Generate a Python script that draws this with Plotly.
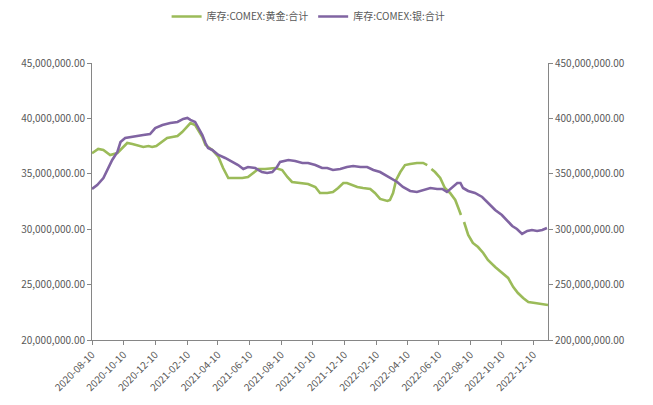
import plotly.graph_objects as go

# COMEX gold inventory (left axis)
gold_dates = [
    "2020-08-10", "2020-08-16", "2020-08-22", "2020-09-01", "2020-09-14", "2020-09-28",
    "2020-10-07", "2020-10-17", "2020-10-27", "2020-11-05", "2020-11-17", "2020-11-27",
    "2020-12-04", "2020-12-12", "2020-12-20", "2021-01-02", "2021-01-12", "2021-01-22",
    "2021-01-31", "2021-02-10", "2021-02-16", "2021-02-25", "2021-03-03", "2021-03-11",
    "2021-03-17", "2021-03-22", "2021-03-30", "2021-04-11", "2021-04-20", "2021-04-30",
    "2021-05-13", "2021-05-27", "2021-06-07", "2021-06-17", "2021-06-27", "2021-07-10",
    "2021-07-30", "2021-08-12", "2021-08-22", "2021-08-31", "2021-09-12", "2021-10-01",
    "2021-10-15", "2021-10-24", "2021-11-07", "2021-11-18", "2021-11-28", "2021-12-08",
    "2021-12-15", "2021-12-25", "2022-01-04", "2022-01-15", "2022-01-29", "2022-02-07",
    "2022-02-17", "2022-03-03", "2022-03-08", "2022-03-14", "2022-03-20", "2022-03-28",
    "2022-04-06", "2022-04-16", "2022-04-29", "2022-05-11", "2022-05-19", "2022-05-23",
    "2022-05-27", "2022-06-03", "2022-06-13", "2022-06-22", "2022-07-02", "2022-07-12",
    "2022-07-18", "2022-07-23", "2022-07-26", "2022-07-29", "2022-08-06", "2022-08-15",
    "2022-08-25", "2022-09-04", "2022-09-13", "2022-09-27", "2022-10-10", "2022-10-22",
    "2022-11-01", "2022-11-10", "2022-11-20", "2022-11-30", "2022-12-13", "2022-12-27",
    "2023-01-07",
]
gold_values = [
    36.85, 37.06, 37.24, 37.15, 36.70, 36.88,
    37.33, 37.78, 37.69, 37.60, 37.42, 37.51,
    37.42, 37.51, 37.78, 38.23, 38.32, 38.41,
    38.77, 39.22, 39.58, 39.40, 38.95, 38.32,
    37.60, 37.42, 37.15, 36.52, 35.52, 34.62,
    34.62, 34.62, 34.71, 35.07, 35.43, 35.43,
    35.52, 35.34, 34.71, 34.26, 34.17, 34.08,
    33.81, 33.27, 33.27, 33.36, 33.72, 34.17,
    34.17, 33.99, 33.81, 33.72, 33.63, 33.27,
    32.73, 32.55, 32.64, 33.27, 34.44, 35.16,
    35.79, 35.88, 35.98, 35.98, 35.79, None,
    35.43, 35.16, 34.62, 33.72, 33.27, 32.64,
    31.91, 31.28, None, 30.65, 29.48, 28.76,
    28.39, 27.85, 27.22, 26.59, 26.05, 25.60,
    24.78, 24.24, 23.79, 23.43, 23.34, 23.25,
    23.16,
]

# COMEX silver inventory (right axis)
silver_dates = [
    "2020-08-10", "2020-08-20", "2020-09-01", "2020-09-10", "2020-09-18", "2020-09-28",
    "2020-10-04", "2020-10-13", "2020-10-23", "2020-11-05", "2020-11-17", "2020-11-30",
    "2020-12-10", "2020-12-24", "2021-01-08", "2021-01-22", "2021-02-02", "2021-02-10",
    "2021-02-16", "2021-02-25", "2021-03-03", "2021-03-11", "2021-03-17", "2021-03-22",
    "2021-03-30", "2021-04-11", "2021-04-24", "2021-05-08", "2021-05-19", "2021-05-29",
    "2021-06-07", "2021-06-21", "2021-07-04", "2021-07-14", "2021-07-24", "2021-08-02",
    "2021-08-08", "2021-08-24", "2021-09-06", "2021-09-20", "2021-10-01", "2021-10-15",
    "2021-10-28", "2021-11-07", "2021-11-18", "2021-12-02", "2021-12-15", "2021-12-27",
    "2022-01-10", "2022-01-23", "2022-02-04", "2022-02-17", "2022-03-03", "2022-03-12",
    "2022-03-22", "2022-04-02", "2022-04-16", "2022-04-29", "2022-05-11", "2022-05-25",
    "2022-06-07", "2022-06-17", "2022-06-26", "2022-07-06", "2022-07-16", "2022-07-22",
    "2022-07-27", "2022-08-06", "2022-08-19", "2022-09-02", "2022-09-13", "2022-09-27",
    "2022-10-10", "2022-10-20", "2022-10-30", "2022-11-08", "2022-11-18", "2022-11-28",
    "2022-12-07", "2022-12-17", "2022-12-27", "2023-01-05",
]
silver_values = [
    336.3, 339.9, 346.2, 355.2, 362.5, 369.7,
    378.7, 382.3, 383.2, 384.1, 385.0, 385.9,
    391.3, 394.0, 395.9, 396.8, 399.5, 400.4,
    398.6, 396.8, 391.3, 385.0, 377.8, 373.3,
    371.5, 367.0, 364.3, 360.7, 357.9, 354.3,
    356.1, 355.2, 351.6, 350.7, 351.6, 356.1,
    360.7, 362.5, 361.6, 359.8, 359.8, 357.9,
    355.2, 355.2, 353.4, 354.3, 356.1, 357.0,
    356.1, 356.1, 353.4, 351.6, 348.0, 345.3,
    342.6, 338.1, 334.5, 333.6, 335.4, 337.2,
    336.3, 336.3, 333.6, 338.1, 341.7, 341.7,
    337.2, 334.5, 332.7, 329.1, 323.7, 317.3,
    312.8, 308.3, 302.9, 300.2, 295.7, 298.4,
    299.3, 298.4, 299.3, 301.1,
]

tick_dates = [
    "2020-08-10", "2020-10-10", "2020-12-10", "2021-02-10", "2021-04-10",
    "2021-06-10", "2021-08-10", "2021-10-10", "2021-12-10", "2022-02-10",
    "2022-04-10", "2022-06-10", "2022-08-10", "2022-10-10", "2022-12-10",
]

left_ticks = [20e6, 25e6, 30e6, 35e6, 40e6, 45e6]
right_ticks = [200e6, 250e6, 300e6, 350e6, 400e6, 450e6]

GREEN = "#9BBB59"
PURPLE = "#8064A2"
TEXT = "#595959"
AXIS = "#868686"
FONT = "Noto Sans CJK SC"

fig = go.Figure()
fig.add_trace(go.Scatter(
    x=gold_dates, y=[v * 1e6 if v is not None else None for v in gold_values],
    name="库存:COMEX:黄金:合计", mode="lines",
    line=dict(color=GREEN, width=2.6), connectgaps=False,
))
fig.add_trace(go.Scatter(
    x=silver_dates, y=[v * 1e6 for v in silver_values],
    name="库存:COMEX:银:合计", mode="lines", yaxis="y2",
    line=dict(color=PURPLE, width=2.6),
))

axis_common = dict(
    showgrid=False, zeroline=False, showline=True, linecolor=AXIS, linewidth=1,
    ticks="outside", ticklen=4, tickcolor=AXIS,
    tickfont=dict(family=FONT, size=10, color=TEXT),
)

fig.update_layout(
    width=653, height=405,
    margin=dict(l=92, r=105, t=63, b=65),
    paper_bgcolor="white", plot_bgcolor="white",
    font=dict(family=FONT, size=10, color=TEXT),
    showlegend=True,
    legend=dict(
        orientation="h", x=0.475, xanchor="center",
        yref="container", y=0.995, yanchor="top",
        font=dict(family=FONT, size=10, color=TEXT),
        itemwidth=30, tracegroupgap=0,
    ),
    xaxis=dict(
        axis_common, type="date", range=["2020-08-10", "2023-01-07"],
        tickvals=tick_dates, ticktext=tick_dates, tickangle=-45,
    ),
    yaxis=dict(
        axis_common, range=[20e6, 45e6], tickvals=left_ticks,
        tickformat=",.2f",
    ),
    yaxis2=dict(
        axis_common, range=[200e6, 450e6], tickvals=right_ticks,
        tickformat=",.2f", overlaying="y", side="right",
    ),
)

fig.write_html("out.html")
